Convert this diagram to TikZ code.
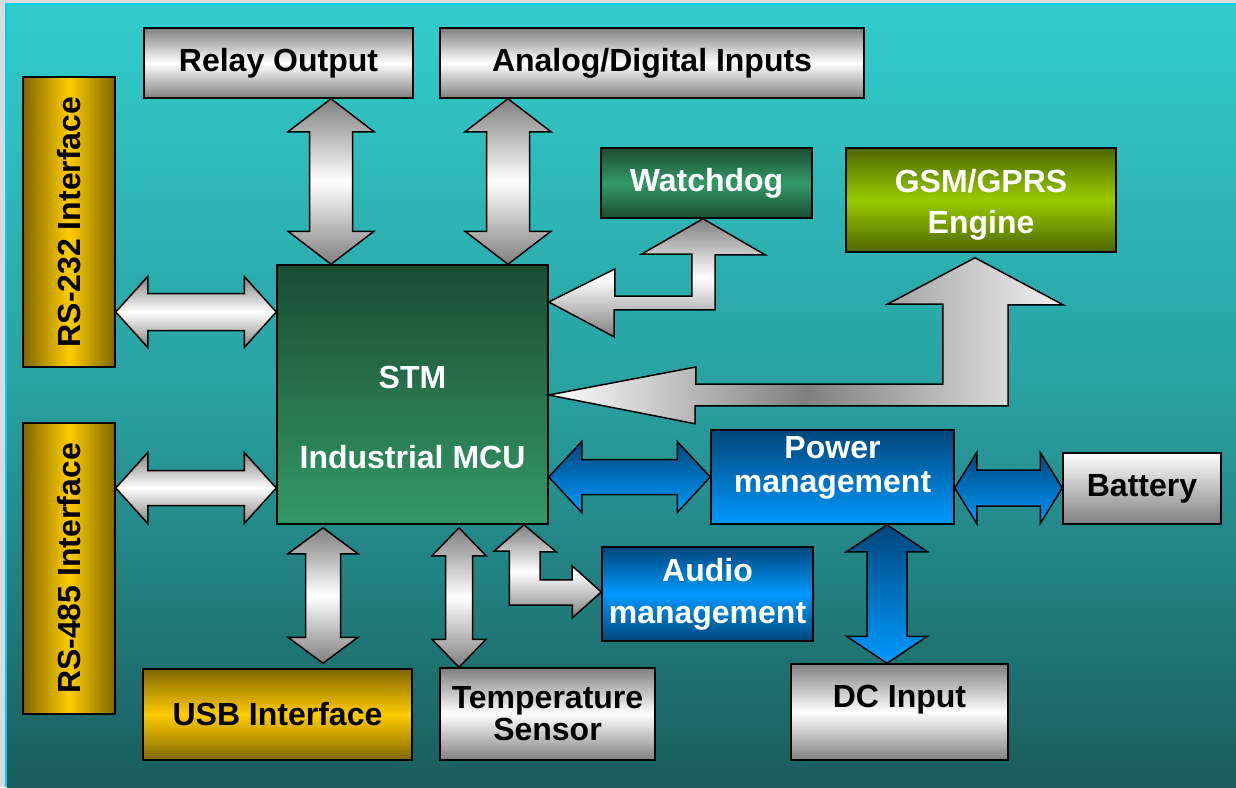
\documentclass[tikz,border=0pt]{standalone}
\usepackage{fontspec}
\setmainfont{Liberation Sans}
\usepackage{graphicx}
\usetikzlibrary{calc}

\definecolor{bgtop}{RGB}{51,204,204}
\definecolor{bgmid}{RGB}{40,160,160}
\definecolor{bgbot}{RGB}{26,92,92}
\definecolor{greendark}{RGB}{27,76,50}
\definecolor{greenlight}{RGB}{51,153,102}
\definecolor{olivedark}{RGB}{77,102,0}
\definecolor{olivelight}{RGB}{153,204,0}
\definecolor{bluedark}{RGB}{0,70,122}
\definecolor{bluelight}{RGB}{0,153,255}
\definecolor{golddark}{RGB}{128,102,0}
\definecolor{goldlight}{RGB}{255,204,0}
\definecolor{edgeblue}{RGB}{0,204,255}

\newcommand{\vblockarrow}[6][]{%
	\coordinate (ta) at (#2);
	\coordinate (tb) at (#3);
	\draw[#1] (ta) -- ++(#4,#6) -- ++(#5-#4,0) -- ($(tb)+(#5,-#6)$) -- ++(#4-#5,0) -- (tb) -- ++(-#4,-#6) -- ++(#4-#5,0) -- ($(ta)+(-#5,#6)$) -- ++(#5-#4,0) -- cycle;
}
\newcommand{\hblockarrow}[6][]{%
	\coordinate (ta) at (#2);
	\coordinate (tb) at (#3);
	\draw[#1] (ta) -- ++(#6,-#4) -- ++(0,#4-#5) -- ($(tb)+(-#6,-#5)$) -- ++(0,#5-#4) -- (tb) -- ++(-#6,#4) -- ++(0,#5-#4) -- ($(ta)+(#6,#5)$) -- ++(0,#4-#5) -- cycle;
}

\begin{document}
\begin{tikzpicture}[x=1pt,y=-1pt,
	box/.style={draw=black,line width=1.5pt,inner sep=0pt,align=center,font=\bfseries\fontsize{32}{35}\selectfont},
	graybox/.style={box,top color=black!50,bottom color=black!50,middle color=white},
	batbox/.style={box,top color=white,bottom color=black!50},
	goldh/.style={box,left color=golddark,right color=golddark,middle color=goldlight},
	goldv/.style={box,top color=golddark,bottom color=golddark,middle color=goldlight},
	mcubox/.style={box,text=white,top color=greendark,bottom color=greenlight},
	wdbox/.style={box,text=white,top color=greendark,bottom color=greendark,middle color=greenlight},
	gsmbox/.style={box,text=white,top color=olivedark,bottom color=olivedark,middle color=olivelight},
	pwrbox/.style={box,text=white,top color=bluedark,bottom color=bluelight},
	audbox/.style={box,text=white,top color=bluedark,bottom color=bluedark,middle color=bluelight},
	grayv/.style={draw=black,line width=1.5pt,top color=black!50,bottom color=black!50,middle color=white},
	grayh/.style={draw=black,line width=1.5pt,left color=white,right color=black!5,middle color=black!50},
	bluev/.style={draw=black,line width=1.5pt,top color=bluedark,bottom color=bluelight}]

	\fill[black!14] (0,0) rectangle (1236,787);
	\fill[edgeblue] (5,3) rectangle (1236,787);
	\shade[top color=bgtop,bottom color=bgbot,middle color=bgmid] (7,5) rectangle (1236,787);
	\useasboundingbox (0,0) rectangle (1236,787);

	\node (relay) at (278.5,63) [graybox,minimum width=269pt,minimum height=70pt] {Relay Output};
	\node (analog) at (652,63) [graybox,minimum width=424pt,minimum height=70pt] {Analog/Digital Inputs};
	\node (rs232) at (69,222) [goldh,minimum width=92pt,minimum height=290pt] {\rotatebox{90}{RS-232 Interface}};
	\node (rs485) at (69,568.5) [goldh,minimum width=92pt,minimum height=291pt] {\rotatebox{90}{RS-485 Interface}};
	\node (mcu) at (412.5,394.5) [mcubox,minimum width=271pt,minimum height=259pt,text height=150pt,text depth=3pt] {STM\\[45pt]Industrial MCU};
	\node (watchdog) at (706.5,183) [wdbox,minimum width=211pt,minimum height=70pt] {Watchdog};
	\node (gsm) at (981,200) [gsmbox,minimum width=270pt,minimum height=104pt,font=\bfseries\fontsize{32}{41}\selectfont,text height=72pt,text depth=6pt] {GSM/GPRS\\Engine};
	\node (power) at (832.5,477) [pwrbox,minimum width=243pt,minimum height=94pt,font=\bfseries\fontsize{32}{34}\selectfont,text height=56pt,text depth=26pt] {Power\\management};
	\node (battery) at (1142,488.5) [batbox,minimum width=158pt,minimum height=71pt] {Battery};
	\node (audio) at (707.5,594) [audbox,minimum width=211pt,minimum height=94pt,font=\bfseries\fontsize{32}{42}\selectfont] {Audio\\management};
	\node (usb) at (277.5,714.5) [goldv,minimum width=269pt,minimum height=91pt] {USB Interface};
	\node (temp) at (547.5,714) [graybox,minimum width=215pt,minimum height=92pt,font=\bfseries\fontsize{32}{32}\selectfont] {Temperature\\Sensor};
	\node (dc) at (899.5,712) [graybox,minimum width=217pt,minimum height=96pt,text height=22pt,text depth=32pt] {DC Input};

	\vblockarrow[grayv]{relay.south -| 331,0}{mcu.north -| 331,0}{43}{21.5}{33}
	\vblockarrow[grayv]{analog.south -| 508,0}{mcu.north -| 508,0}{43}{21.5}{33}
	\vblockarrow[grayv]{$(mcu.south -| 323,0)+(0,3)$}{$(usb.north -| 323,0)+(0,-5)$}{35}{17.5}{26}
	\vblockarrow[grayv]{$(mcu.south -| 459,0)+(0,3)$}{temp.north -| 459,0}{27}{13.5}{28}
	\vblockarrow[bluev]{power.south -| 887,0}{dc.north -| 887,0}{40.5}{20}{27}
	\hblockarrow[grayv]{rs232.east |- 0,312}{mcu.west |- 0,312}{35.5}{18.5}{32}
	\hblockarrow[grayv]{rs485.east |- 0,488}{mcu.west |- 0,488}{35.5}{17.5}{32}
	\hblockarrow[bluev]{mcu.east |- 0,477}{power.west |- 0,477}{35.5}{17.5}{33}
	\hblockarrow[bluev]{power.east |- 0,488}{battery.west |- 0,488}{35.5}{18}{22}

	\coordinate (wd1) at (mcu.east |- 0,302);
	\coordinate (wd2) at (watchdog.south -| 703,0);
	\draw[grayv] (wd1) -- ++(66,-33) -- ++(0,27) -- ++(77,0) -- ++(0,-42) -- ++(-50,0) -- (wd2) -- ++(62,36) -- ++(-50,0) -- ++(0,55) -- ++(-101,0) -- ++(0,27) -- cycle;

	\coordinate (gs1) at (mcu.east |- 0,395);
	\coordinate (gs2) at ($(gsm.south -| 975,0)+(0,5)$);
	\draw[grayh] (gs1) -- ++(147,-28) -- ++(0,17) -- ++(247,0) -- ++(0,-80) -- ++(-55,0) -- (gs2) -- ++(88,47) -- ++(-55,0) -- ++(0,101) -- ++(-313,0) -- ++(0,18) -- cycle;

	\coordinate (au1) at (mcu.south -| 524,0);
	\coordinate (au2) at (audio.west |- 0,592);
	\draw[grayv] (au1) -- ++(32,27) -- ++(-16,0) -- ++(0,28) -- ++(32,0) -- ++(0,-14) -- (au2) -- ++(-29,26) -- ++(0,-13) -- ++(-63,0) -- ++(0,-54) -- ++(-15,0) -- cycle;

\end{tikzpicture}
\end{document}
